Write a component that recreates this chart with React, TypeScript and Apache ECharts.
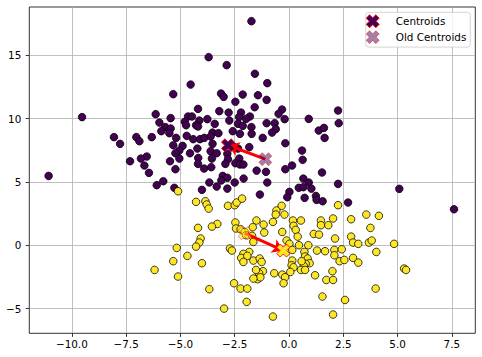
import React, { useEffect, useRef } from "react";
import * as echarts from "echarts";

const purplePoints: number[][] = [
  [-1.73, 17.68], [-3.7, 14.84], [-2.87, 14.21], [-1.57, 13.53], [-4.53, 12.68], [-1.0, 12.79],
  [-5.33, 11.92], [-3.13, 11.97], [-3.01, 11.71], [-2.13, 11.89], [-1.43, 11.84], [-2.47, 11.32],
  [-1.03, 11.47], [-1.58, 10.89], [-4.19, 10.76], [-6.14, 10.34], [-3.21, 10.58], [-2.78, 10.47],
  [-2.21, 10.47], [-0.32, 10.71], [-0.48, 10.37], [2.26, 10.63], [-9.53, 10.11], [-5.45, 10.03],
  [-4.65, 10.16], [-4.47, 10.16], [-3.76, 9.95], [-2.3, 10.11], [-1.8, 10.16], [-0.2, 9.95],
  [0.91, 9.97], [-5.97, 9.68], [-4.8, 9.74], [-4.13, 9.84], [-3.42, 9.58], [-2.75, 9.84],
  [-2.35, 9.58], [-1.97, 9.97], [-1.03, 9.63], [-0.66, 9.63], [2.29, 9.63], [-5.7, 9.32],
  [-5.45, 9.21], [-4.74, 9.47], [-4.28, 9.47], [-4.19, 9.37], [-2.13, 9.42], [-1.73, 9.32],
  [-0.61, 9.16], [1.37, 9.05], [1.61, 9.26], [-5.88, 9.0], [-5.51, 8.84], [-3.52, 8.89],
  [-3.25, 8.84], [-2.59, 9.0], [-2.26, 8.79], [-1.72, 8.79], [-0.78, 8.89], [-8.06, 8.53],
  [-7.78, 8.0], [-7.03, 8.53], [-6.89, 8.21], [-6.32, 8.53], [-5.2, 8.47], [-4.71, 8.63],
  [-4.41, 8.37], [-4.1, 8.37], [-3.9, 8.47], [-3.61, 8.58], [-1.21, 8.47], [1.64, 8.47],
  [-5.33, 7.89], [-4.9, 7.84], [-4.22, 7.63], [-3.52, 8.0], [-0.17, 8.05], [-2.56, 7.79],
  [-2.35, 7.63], [-1.83, 7.74], [-5.05, 7.47], [-5.23, 7.26], [-4.56, 7.26], [-3.61, 7.42],
  [-3.33, 7.26], [-2.84, 7.21], [0.6, 7.47], [-6.55, 7.0], [-6.82, 6.84], [-5.05, 6.84],
  [-4.18, 6.89], [-3.55, 6.84], [-2.81, 6.79], [-2.29, 6.84], [-7.32, 6.63], [-5.48, 6.63],
  [0.63, 6.74], [-6.66, 6.29], [-4.19, 6.42], [-2.93, 6.42], [-2.47, 6.47], [-2.26, 6.37],
  [-2.1, 6.37], [0.14, 6.29], [-5.23, 6.0], [-3.91, 6.05], [-3.58, 6.16], [-1.49, 5.89],
  [-1.06, 5.79], [-0.17, 6.0], [-6.45, 5.71], [1.52, 5.74], [-11.07, 5.47], [-3.05, 5.47],
  [-2.84, 5.32], [-2.09, 5.26], [0.66, 5.26], [-6.09, 4.74], [-5.79, 5.05], [-3.67, 4.95],
  [-3.12, 5.11], [-2.5, 4.95], [-1.0, 4.95], [0.91, 4.95], [2.26, 4.84], [-5.28, 4.53],
  [-3.33, 4.63], [-2.84, 4.47], [-4.01, 4.37], [0.45, 4.53], [0.66, 4.58], [1.03, 4.47],
  [0.02, 4.21], [5.08, 4.45], [-1.34, 4.0], [-0.08, 3.79], [0.72, 3.74], [1.24, 3.89],
  [1.27, 3.58], [1.55, 3.47], [2.72, 3.37], [7.6, 2.84],
];

const yellowPoints: number[][] = [
  [-5.11, 4.26], [-4.28, 3.42], [-3.85, 3.47], [-3.79, 3.21], [-3.7, 2.89], [-2.81, 3.11],
  [-2.5, 3.16], [-2.41, 3.37], [-2.16, 3.68], [-0.34, 3.11], [-0.58, 2.74], [-0.61, 2.42],
  [-0.21, 2.42], [2.26, 3.16], [-3.3, 1.68], [-3.55, 1.47], [-4.19, 1.37], [-2.47, 1.79],
  [-1.5, 1.95], [-1.17, 1.63], [-0.74, 1.84], [0.18, 1.95], [0.55, 1.95], [1.47, 1.95],
  [2.03, 2.11], [1.81, 1.58], [1.47, 1.58], [2.86, 2.05], [3.56, 2.42], [4.14, 2.32],
  [0.21, 1.53], [0.31, 1.21], [3.75, 1.37], [-2.44, 1.32], [-1.67, 1.42], [-2.23, 1.26],
  [-2.04, 1.05], [-1.98, 0.79], [-1.7, 0.74], [-1.14, 1.0], [-0.31, 1.05], [1.14, 0.89],
  [1.38, 0.84], [0.4, 0.68], [2.12, 0.53], [2.86, 0.68], [2.95, 0.21], [3.19, 0.11],
  [3.68, 0.21], [3.81, 0.37], [4.84, 0.11], [-4.07, 0.53], [-4.13, 0.21], [-4.28, -0.11],
  [-5.17, -0.21], [-1.64, 0.26], [-0.11, 0.37], [0.02, 0.11], [0.46, 0.0], [0.89, 0.0],
  [-2.72, -0.26], [-2.63, -0.42], [-1.83, -0.53], [0.15, -0.37], [0.71, -0.53], [1.29, -0.42],
  [1.66, -0.47], [2.09, -0.37], [2.43, -0.32], [4.02, -0.53], [-2.1, -0.68], [-2.2, -1.0],
  [-1.92, -0.84], [-2.1, -1.32], [-1.64, -1.21], [-1.35, -1.05], [-1.26, -1.32], [2.09, -0.79],
  [2.33, -1.26], [2.55, -1.16], [2.95, -1.0], [3.19, -1.37], [0.15, -1.21], [0.12, -1.58],
  [0.21, -1.74], [0.74, -0.89], [0.86, -1.05], [0.95, -1.42], [0.77, -1.47], [0.68, -1.63],
  [0.58, -1.26], [0.55, -1.95], [0.74, -1.95], [1.2, -2.37], [-1.2, -2.05], [-1.38, -2.21],
  [-1.44, -2.68], [-1.32, -2.53], [-0.68, -2.21], [-0.31, -2.32], [-0.18, -2.53], [-0.25, -3.0],
  [0.06, -2.11], [1.72, -2.74], [2.03, -2.74], [2.0, -2.05], [1.54, -4.05], [2.58, -4.32],
  [3.99, -3.42], [2.03, -5.47], [-0.74, -5.63], [-4.68, -0.84], [-5.33, -1.26], [-4.01, -1.42],
  [-6.19, -1.95], [-5.11, -2.47], [-1.52, -1.95], [-1.64, -2.63], [-2.53, -3.0], [-2.23, -3.42],
  [-1.92, -3.42], [-1.95, -4.47], [-3.67, -3.47], [-2.99, -5.0], [5.3, -1.84], [5.39, -1.95],
];

const centroids: number[][] = [[-2.81, 7.89], [-0.26, -0.42]];
const oldCentroids: number[][] = [[-1.09, 6.79], [-2.04, 0.95]];
const seriesNames = ["Centroids", "Old Centroids"];
const clusterColors = ["#440154", "#fde725"];
const oldClusterColors = ["rgba(68,1,84,0.5)", "rgba(253,231,37,0.5)"];

const xTickValues = [-10, -7.5, -5, -2.5, 0, 2.5, 5, 7.5];
const xTickLabels = ["\u221210.0", "\u22127.5", "\u22125.0", "\u22122.5", "0.0", "2.5", "5.0", "7.5"];
const yTickValues = [-5, 0, 5, 10, 15];
const yTickLabels = ["\u22125", "0", "5", "10", "15"];
const xRange = [-11.96, 8.58];
const yRange = [-6.95, 18.8];

const X_SYMBOL =
  "path://M2.6,0 L5,2.4 L7.4,0 L10,2.6 L7.6,5 L10,7.4 L7.4,10 L5,7.6 L2.6,10 L0,7.4 L2.4,5 L0,2.6 Z";
const FONT = "DejaVu Sans";

function labelFor(values: number[], labels: string[], v: number): string {
  const i = values.findIndex((t) => Math.abs(t - v) < 1e-6);
  return i >= 0 ? labels[i] : "";
}

export default function App() {
  const ref = useRef<HTMLDivElement>(null);

  useEffect(() => {
    if (!ref.current) return;
    const chart = echarts.init(ref.current, null, { renderer: "svg" });
    const tickStyle = { color: "#000", width: 0.8 };
    const option: any = {
      animation: false,
      backgroundColor: "#fff",
      grid: {
        left: 29.3,
        right: 6.7,
        top: 7,
        bottom: 23.7,
        show: true,
        borderColor: "#000",
        borderWidth: 0.8,
        backgroundColor: "transparent",
      },
      legend: {
        data: seriesNames,
        orient: "vertical",
        right: 11.7,
        top: 12.3,
        itemWidth: 18,
        itemHeight: 13,
        itemGap: 2,
        padding: [2, 4, 3, 0],
        borderColor: "#d5d5d5",
        borderWidth: 1,
        borderRadius: 3,
        backgroundColor: "rgba(255,255,255,0.8)",
        selectedMode: false,
        itemStyle: { borderWidth: 0.9 },
        textStyle: { fontFamily: FONT, fontSize: 10.4, color: "#000", padding: [0, 0, 0, 9] },
      },
      xAxis: {
        type: "value",
        min: xRange[0],
        max: xRange[1],
        axisLine: { show: false, onZero: false },
        axisTick: { show: true, customValues: xTickValues, length: 3.6, lineStyle: tickStyle },
        axisLabel: {
          customValues: xTickValues,
          formatter: (v: number) => labelFor(xTickValues, xTickLabels, v),
          margin: 6,
          color: "#000",
          fontFamily: FONT,
          fontSize: 10.4,
        },
        splitLine: { show: true, lineStyle: { color: "#b0b0b0", width: 0.8 } },
      },
      yAxis: {
        type: "value",
        min: yRange[0],
        max: yRange[1],
        axisLine: { show: false, onZero: false },
        axisTick: { show: true, customValues: yTickValues, length: 3.6, lineStyle: tickStyle },
        axisLabel: {
          customValues: yTickValues,
          formatter: (v: number) => labelFor(yTickValues, yTickLabels, v),
          margin: 8,
          color: "#000",
          fontFamily: FONT,
          fontSize: 10.4,
        },
        splitLine: { show: true, lineStyle: { color: "#b0b0b0", width: 0.8 } },
      },
      series: [
        {
          type: "scatter",
          data: purplePoints,
          symbolSize: 7.6,
          itemStyle: { color: clusterColors[0], borderColor: "#000", borderWidth: 0.75, opacity: 1 },
          z: 2,
          silent: true,
        },
        {
          type: "scatter",
          data: yellowPoints,
          symbolSize: 7.6,
          itemStyle: { color: clusterColors[1], borderColor: "#000", borderWidth: 0.75, opacity: 1 },
          z: 2,
          silent: true,
        },
        {
          type: "lines",
          coordinateSystem: "cartesian2d",
          data: oldCentroids.map((o, i) => ({ coords: [o, centroids[i]] })),
          lineStyle: { color: "#ff0000", width: 3, opacity: 1, curveness: 0 },
          symbol: ["none", "arrow"],
          symbolSize: 11,
          z: 3,
          silent: true,
        },
        {
          name: seriesNames[0],
          type: "scatter",
          symbol: X_SYMBOL,
          symbolSize: 13,
          data: centroids.map((c, i) => ({ value: c, itemStyle: { color: clusterColors[i] } })),
          itemStyle: { color: clusterColors[0], borderColor: "#ff0000", borderWidth: 0.9, opacity: 1 },
          z: 4,
          silent: true,
        },
        {
          name: seriesNames[1],
          type: "scatter",
          symbol: X_SYMBOL,
          symbolSize: 13,
          data: oldCentroids.map((c, i) => ({ value: c, itemStyle: { color: oldClusterColors[i] } })),
          itemStyle: {
            color: oldClusterColors[0],
            borderColor: "rgba(255,0,0,0.5)",
            borderWidth: 0.9,
            opacity: 1,
          },
          z: 5,
          silent: true,
        },
      ],
    };
    chart.setOption(option);
    return () => chart.dispose();
  }, []);

  return (
    <div
      ref={ref}
      style={{ position: "fixed", left: 0, top: 0, width: 482, height: 357 }}
    />
  );
}
